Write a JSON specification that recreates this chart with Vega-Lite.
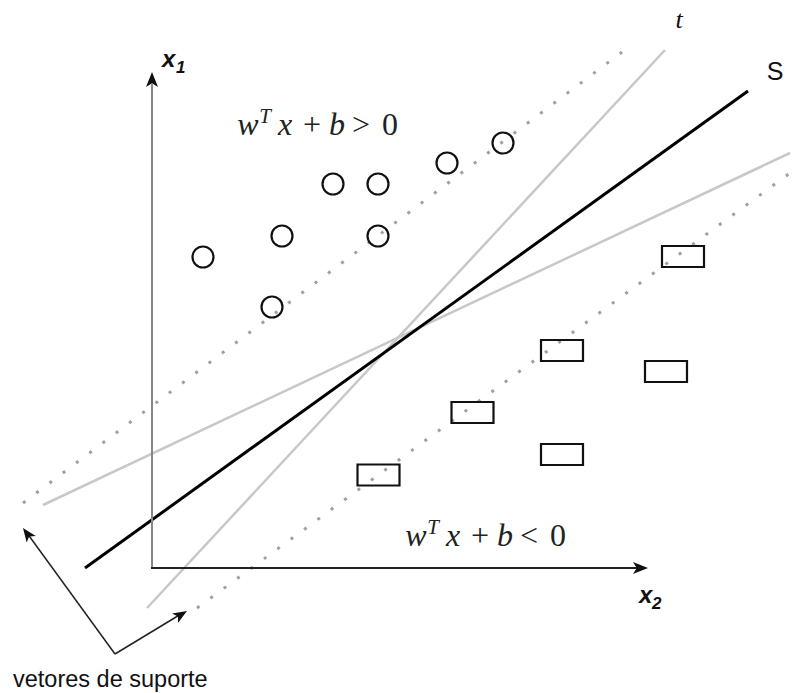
{
  "$schema": "https://vega.github.io/schema/vega-lite/v6.json",
  "width": 812,
  "height": 693,
  "padding": 0,
  "autosize": {"type": "fit", "contains": "padding"},
  "background": "white",
  "config": {"view": {"stroke": null}},
  "encoding": {
    "x": {"field": "x", "type": "quantitative", "scale": {"domain": [0, 812], "nice": false, "zero": false}, "axis": null},
    "y": {"field": "y", "type": "quantitative", "scale": {"domain": [0, 693], "reverse": true, "nice": false, "zero": false}, "axis": null}
  },
  "layer": [
    {
      "data": {"values": [{"x": 23, "y": 503, "x2": 622, "y2": 52}, {"x": 197, "y": 608, "x2": 790, "y2": 173}]},
      "mark": {"type": "rule", "stroke": "#a0a0a0", "strokeWidth": 3, "strokeDash": [3, 13.6]},
      "encoding": {"x2": {"field": "x2"}, "y2": {"field": "y2"}}
    },
    {
      "data": {"values": [{"x": 147, "y": 608, "x2": 665, "y2": 50}, {"x": 43, "y": 505, "x2": 790, "y2": 153}]},
      "mark": {"type": "rule", "stroke": "#c8c8c8", "strokeWidth": 2.5},
      "encoding": {"x2": {"field": "x2"}, "y2": {"field": "y2"}}
    },
    {
      "data": {"values": [{"x": 85, "y": 568, "x2": 748, "y2": 91}]},
      "mark": {"type": "rule", "stroke": "#000000", "strokeWidth": 3},
      "encoding": {"x2": {"field": "x2"}, "y2": {"field": "y2"}}
    },
    {
      "data": {"values": [{"x": 152, "y": 568, "x2": 152, "y2": 84}]},
      "mark": {"type": "rule", "stroke": "#888888", "strokeWidth": 2},
      "encoding": {"x2": {"field": "x2"}, "y2": {"field": "y2"}}
    },
    {
      "data": {"values": [{"x": 151, "y": 568, "x2": 638, "y2": 568}]},
      "mark": {"type": "rule", "stroke": "#222222", "strokeWidth": 2},
      "encoding": {"x2": {"field": "x2"}, "y2": {"field": "y2"}}
    },
    {
      "data": {"values": [{"x": 115, "y": 654, "x2": 27, "y2": 533}, {"x": 115, "y": 654, "x2": 181, "y2": 614}]},
      "mark": {"type": "rule", "stroke": "#222222", "strokeWidth": 1.5},
      "encoding": {"x2": {"field": "x2"}, "y2": {"field": "y2"}}
    },
    {
      "data": {"values": [{"x": 152, "y": 79.5}]},
      "mark": {"type": "point", "shape": "M1,0L-1,-0.8L-0.5,0L-1,0.8Z", "filled": true, "color": "#111111", "opacity": 1, "size": 225, "angle": 270}
    },
    {
      "data": {"values": [{"x": 640.5, "y": 568}]},
      "mark": {"type": "point", "shape": "M1,0L-1,-0.8L-0.5,0L-1,0.8Z", "filled": true, "color": "#111111", "opacity": 1, "size": 225, "angle": 0}
    },
    {
      "data": {"values": [{"x": 27.1, "y": 533.6}]},
      "mark": {"type": "point", "shape": "M1,0L-1,-0.8L-0.5,0L-1,0.8Z", "filled": true, "color": "#111111", "opacity": 1, "size": 196, "angle": 234}
    },
    {
      "data": {"values": [{"x": 181, "y": 614.6}]},
      "mark": {"type": "point", "shape": "M1,0L-1,-0.8L-0.5,0L-1,0.8Z", "filled": true, "color": "#111111", "opacity": 1, "size": 196, "angle": 328.6}
    },
    {
      "data": {"values": [
        {"x": 203, "y": 257}, {"x": 282, "y": 236}, {"x": 333, "y": 184}, {"x": 378, "y": 184},
        {"x": 378, "y": 236}, {"x": 447, "y": 163}, {"x": 503, "y": 143}, {"x": 272, "y": 307}
      ]},
      "mark": {"type": "point", "shape": "circle", "filled": false, "stroke": "#111111", "strokeWidth": 2.2, "opacity": 1, "size": 441}
    },
    {
      "data": {"values": [
        {"x": 683, "y": 256.5}, {"x": 562, "y": 350.5}, {"x": 666, "y": 371.5},
        {"x": 472.5, "y": 412.5}, {"x": 562, "y": 454.5}, {"x": 378.5, "y": 475}
      ]},
      "mark": {"type": "point", "shape": "M-1,-0.5H1V0.5H-1Z", "filled": false, "stroke": "#111111", "strokeWidth": 2.2, "opacity": 1, "size": 1764}
    },
    {
      "data": {"values": [
        {"t": "w", "x": 248, "y": 135}, {"t": "x", "x": 285, "y": 135}, {"t": "b", "x": 337, "y": 135},
        {"t": "w", "x": 416, "y": 546}, {"t": "x", "x": 453, "y": 546}, {"t": "b", "x": 505, "y": 546}
      ]},
      "mark": {"type": "text", "font": "Liberation Serif", "fontStyle": "italic", "fontSize": 32, "align": "center", "baseline": "alphabetic", "color": "#222222"},
      "encoding": {"text": {"field": "t"}}
    },
    {
      "data": {"values": [
        {"t": "+", "x": 312, "y": 135}, {"t": ">", "x": 361, "y": 135}, {"t": "0", "x": 390, "y": 135},
        {"t": "+", "x": 480, "y": 546}, {"t": "<", "x": 529, "y": 546}, {"t": "0", "x": 558, "y": 546}
      ]},
      "mark": {"type": "text", "font": "Liberation Serif", "fontSize": 32, "align": "center", "baseline": "alphabetic", "color": "#222222"},
      "encoding": {"text": {"field": "t"}}
    },
    {
      "data": {"values": [{"t": "T", "x": 265, "y": 123}, {"t": "T", "x": 433, "y": 534}]},
      "mark": {"type": "text", "font": "Liberation Serif", "fontStyle": "italic", "fontSize": 21, "align": "center", "baseline": "alphabetic", "color": "#222222"},
      "encoding": {"text": {"field": "t"}}
    },
    {
      "data": {"values": [{"t": "x", "x": 162, "y": 67}, {"t": "x", "x": 639, "y": 603}]},
      "mark": {"type": "text", "font": "Liberation Sans", "fontStyle": "italic", "fontWeight": "bold", "fontSize": 24, "align": "left", "baseline": "alphabetic", "color": "#111111"},
      "encoding": {"text": {"field": "t"}}
    },
    {
      "data": {"values": [{"t": "1", "x": 176, "y": 73}, {"t": "2", "x": 652, "y": 609}]},
      "mark": {"type": "text", "font": "Liberation Sans", "fontStyle": "italic", "fontWeight": "bold", "fontSize": 17, "align": "left", "baseline": "alphabetic", "color": "#111111"},
      "encoding": {"text": {"field": "t"}}
    },
    {
      "data": {"values": [{"t": "t", "x": 679, "y": 28}]},
      "mark": {"type": "text", "font": "Liberation Serif", "fontStyle": "italic", "fontSize": 26, "align": "center", "baseline": "alphabetic", "color": "#111111"},
      "encoding": {"text": {"field": "t"}}
    },
    {
      "data": {"values": [{"t": "S", "x": 775, "y": 80}]},
      "mark": {"type": "text", "font": "Liberation Sans", "fontSize": 25, "align": "center", "baseline": "alphabetic", "color": "#111111"},
      "encoding": {"text": {"field": "t"}}
    },
    {
      "data": {"values": [{"t": "vetores de suporte", "x": 13, "y": 687}]},
      "mark": {"type": "text", "font": "Liberation Sans", "fontSize": 23.5, "align": "left", "baseline": "alphabetic", "color": "#111111"},
      "encoding": {"text": {"field": "t"}}
    }
  ]
}
